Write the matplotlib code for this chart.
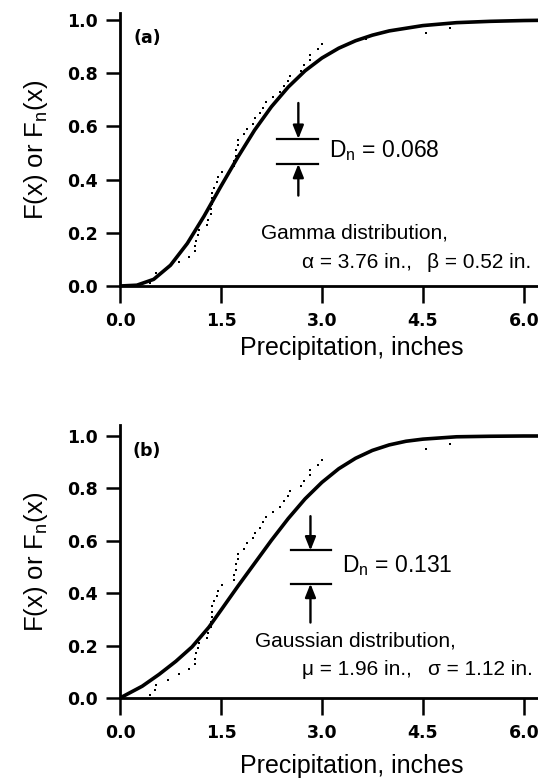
import matplotlib
matplotlib.use('Agg')
import matplotlib.pyplot as plt

plt.rcParams['font.family'] = ['Liberation Sans', 'DejaVu Sans']
plt.rcParams['mathtext.default'] = 'regular'

# Empirical data (sorted precipitation, inches) and cumulative probabilities
precip = [0.44, 0.52, 0.54, 0.72, 0.87, 1.03, 1.11, 1.12, 1.13, 1.16,
          1.18, 1.30, 1.31, 1.35, 1.35, 1.36, 1.36, 1.36, 1.39, 1.44,
          1.46, 1.51, 1.69, 1.69, 1.72, 1.72, 1.75, 1.76, 1.84, 1.88,
          1.98, 2.00, 2.08, 2.13, 2.17, 2.27, 2.38, 2.44, 2.50, 2.53,
          2.69, 2.74, 2.82, 2.82, 2.94, 3.00, 3.66, 4.55, 4.90, 6.37]
ecdf = [0.01, 0.03, 0.05, 0.07, 0.09, 0.11, 0.13, 0.15, 0.17, 0.19,
        0.21, 0.23, 0.25, 0.27, 0.29, 0.31, 0.33, 0.35, 0.37, 0.39,
        0.41, 0.43, 0.45, 0.47, 0.49, 0.51, 0.53, 0.55, 0.57, 0.59,
        0.61, 0.63, 0.65, 0.67, 0.69, 0.71, 0.73, 0.75, 0.77, 0.79,
        0.81, 0.83, 0.85, 0.87, 0.89, 0.91, 0.93, 0.95, 0.97, 0.99]

# Fitted gamma CDF (panel a)
gamma_x = [0.0, 0.25, 0.5, 0.75, 1.0, 1.25, 1.5, 1.75, 2.0, 2.25, 2.5,
           2.75, 3.0, 3.25, 3.5, 3.75, 4.0, 4.5, 5.0, 5.5, 6.0, 6.3]
gamma_F = [0.0, 0.003, 0.025, 0.078, 0.160, 0.263, 0.375, 0.484, 0.586,
           0.674, 0.748, 0.809, 0.857, 0.894, 0.922, 0.943, 0.959, 0.979,
           0.990, 0.995, 0.998, 0.999]

# Fitted Gaussian CDF (panel b)
gauss_x = [0.0, 0.33, 0.58, 0.83, 1.07, 1.32, 1.5, 1.75, 2.0, 2.25, 2.5,
           2.75, 3.0, 3.25, 3.5, 3.75, 4.0, 4.25, 4.5, 5.0, 5.5, 6.0, 6.3]
gauss_F = [0.0, 0.045, 0.09, 0.14, 0.195, 0.27, 0.335, 0.426, 0.514,
           0.602, 0.685, 0.760, 0.823, 0.875, 0.915, 0.945, 0.966, 0.980,
           0.988, 0.997, 0.999, 1.0, 1.0]

xticks = [0.0, 1.5, 3.0, 4.5, 6.0]
yticks = [0.0, 0.2, 0.4, 0.6, 0.8, 1.0]

panels = [
    dict(tag='(a)', tagpos=(0.2, 0.934), x=gamma_x, F=gamma_F, Dn='0.068',
         line1='Gamma distribution,',
         p1='\u03b1 = 3.76 in.,', p2='\u03b2 = 0.52 in.',
         rect=[120/538, 1-286/778, 418/538, 273/778], ytop=273/266,
         lines_x=(2.33, 2.94), arrow_x=2.65, yu=0.553, yl=0.459,
         au=0.688, al=0.34, tx=3.10, ty=0.508,
         t1=(2.10, 0.20), t2a=(2.70, 0.09), t2b=(6.11, 0.09), xlab=-0.228),
    dict(tag='(b)', tagpos=(0.18, 0.944), x=gauss_x, F=gauss_F, Dn='0.131',
         line1='Gaussian distribution,',
         p1='\u03bc = 1.96 in.,', p2='\u03c3 = 1.12 in.',
         rect=[120/538, 1-698/778, 418/538, 273/778], ytop=273/262,
         lines_x=(2.54, 3.14), arrow_x=2.83, yu=0.563, yl=0.436,
         au=0.694, al=0.288, tx=3.30, ty=0.504,
         t1=(2.01, 0.216), t2a=(2.70, 0.109), t2b=(6.14, 0.109), xlab=-0.248),
]

bold_font = dict(family='DejaVu Sans', weight='bold')

fig = plt.figure(figsize=(5.38, 7.78), dpi=100)

for p in panels:
    ax = fig.add_axes(p['rect'])
    ax.set_xlim(0, 418/67.3)
    ax.set_ylim(0, p['ytop'])
    for s in ['top', 'right']:
        ax.spines[s].set_visible(False)
    for s in ['left', 'bottom']:
        ax.spines[s].set_linewidth(2.0)
    ax.set_xticks(xticks)
    ax.set_yticks(yticks)
    ax.set_xticklabels(['%.1f' % v for v in xticks], fontsize=12.5, **bold_font)
    ax.set_yticklabels(['%.1f' % v for v in yticks], fontsize=12.5, **bold_font)
    ax.tick_params(axis='y', direction='out', length=10, width=1.8, pad=6)
    ax.tick_params(axis='x', direction='out', length=12, width=1.8, pad=7)

    ax.plot(p['x'], p['F'], color='black', lw=2.6, solid_capstyle='round', zorder=3)
    ax.scatter(precip, ecdf, s=4.5, marker='s', color='black', linewidths=0, zorder=4)

    ax.text(p['tagpos'][0], p['tagpos'][1], p['tag'], fontsize=12.5,
            va='center', ha='left', **bold_font)

    x0, x1 = p['lines_x']
    ax.plot([x0, x1], [p['yu'], p['yu']], color='black', lw=1.6)
    ax.plot([x0, x1], [p['yl'], p['yl']], color='black', lw=1.6)
    ap = dict(arrowstyle='-|>,head_length=0.8,head_width=0.32', lw=1.7,
              color='black', shrinkA=0, shrinkB=0)
    ax.annotate('', xy=(p['arrow_x'], p['yu']), xytext=(p['arrow_x'], p['au']), arrowprops=ap)
    ax.annotate('', xy=(p['arrow_x'], p['yl']), xytext=(p['arrow_x'], p['al']), arrowprops=ap)
    ax.text(p['tx'], p['ty'], 'D$_{n}$ = ' + p['Dn'], fontsize=16.5, va='center', ha='left')

    ax.text(p['t1'][0], p['t1'][1], p['line1'], fontsize=15, va='center', ha='left')
    ax.text(p['t2a'][0], p['t2a'][1], p['p1'], fontsize=15, va='center', ha='left')
    ax.text(p['t2b'][0], p['t2b'][1], p['p2'], fontsize=15, va='center', ha='right')

    ax.set_ylabel('F(x) or F$_{n}$(x)', fontsize=18.5, va='center')
    ax.yaxis.set_label_coords(-0.201, 0.5)
    ax.set_xlabel('Precipitation, inches', fontsize=18, va='center')
    ax.xaxis.set_label_coords(0.555, p['xlab'])

fig.savefig('out.png', dpi=100)
